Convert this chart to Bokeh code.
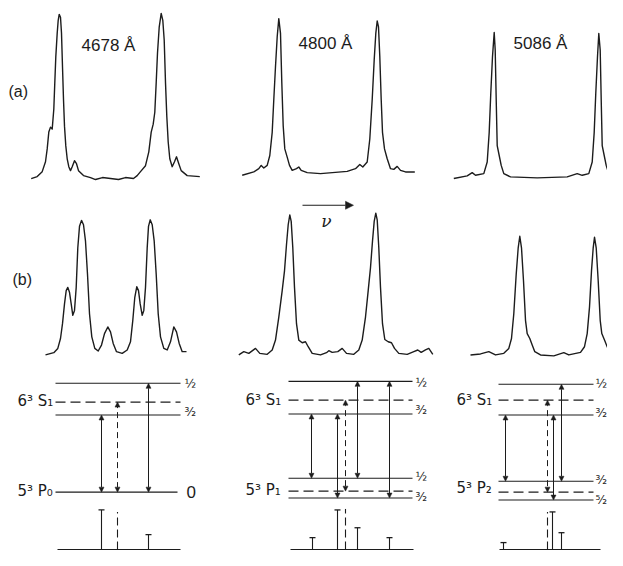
from bokeh.plotting import figure
from bokeh.models import Range1d, ColumnDataSource, Arrow, NormalHead
from bokeh.core.properties import value
from bokeh.embed import file_html
from bokeh.resources import INLINE

INK = "#1c1c1c"

# ---------------- spectra, row (a): frequency (x) vs. recorded trace (y, downward scale)
a1_x = [30.7, 36.7, 41.7, 45, 46.7, 48.3, 50, 51.7, 53.3, 54.3, 55.3, 56.7, 57.7, 58.7, 60, 61, 62, 63, 64, 65.3, 66.7, 68.3, 70, 71.7, 74, 76, 78, 83,
        90, 95, 102, 110, 118, 125, 133, 136.7, 140, 145, 148.3, 150.7, 152.7, 154.3, 155.7, 157, 158.7, 160.7, 162.3, 163.7, 165, 166.3, 167.7, 169.3, 171.7, 174, 176, 178.3, 180.7, 186.7, 199.3]
a1_y = [180, 178, 173, 163, 150, 133, 128, 130, 110, 83, 57, 33, 20, 14, 17, 33, 67, 100, 127, 147, 160, 168, 172, 168, 162, 165, 172, 177,
        179, 181, 179, 180, 181, 179, 180, 177, 173, 167, 153, 133, 125, 113, 83, 53, 27, 13, 20, 40, 83, 117, 143, 160, 168, 163, 158, 165, 172, 177, 178]

a2_x = [241.7, 253.3, 258.3, 260.7, 263.3, 266.7, 269.3, 271.7, 273.3, 275, 276.7, 278.3, 280, 281.3, 282.7, 284.3, 286.7, 289, 291.7, 296, 298.3, 300.7, 306.7, 320,
        346.7, 355, 359.3, 362.3, 366.7, 369.3, 371.7, 373.7, 375.3, 376.7, 378, 379.3, 380.7, 382, 384, 386.7, 390, 393.3, 396.7, 400, 405, 414.3]
a2_y = [176.7, 173.3, 170, 166.7, 169.3, 166.7, 156.7, 133.3, 100, 66.7, 36.7, 18.3, 33.3, 83, 126.7, 150, 158.3, 166.7, 171.7, 170, 168.3, 171.7, 174, 175,
        172.7, 170, 165.7, 168.3, 163.3, 140, 100, 60, 33.3, 20.7, 26.7, 56.7, 100, 133.3, 150, 160, 170, 170.7, 167.7, 171.7, 173.3, 173.3]

a3_x = [453.3, 466.7, 471.7, 475, 483.3, 486.7, 488.7, 490.3, 492, 493.7, 494.7, 495.7, 496.7, 498.7, 500.7, 503.3, 510, 536.7,
        566.7, 576.7, 581.7, 588.3, 591.7, 593.7, 595.3, 597, 598.3, 599.7, 600.7, 601.7, 603.7, 605.7, 608.3, 613.3, 623.3]
a3_y = [180, 177.3, 174, 176.7, 175, 163.3, 133.3, 93.3, 56.7, 32.3, 50, 100, 146.7, 156.7, 166.7, 175, 178.3, 179.3,
        178.3, 175, 176.7, 175, 163.3, 133.3, 93.3, 56.7, 33.3, 50, 100, 146.7, 156.7, 166.7, 175, 178.3, 179]

# ---------------- spectra, row (b)
b1_x = [45, 53.3, 57.3, 60, 62, 64, 65.7, 67.3, 69, 70.7, 72.3, 74, 75.7, 77.3, 79, 81, 83, 85, 87, 89, 91.3, 94.3, 97.7, 101, 104, 107.3, 110, 112.7, 116, 121.7,
        126.7, 130, 132.3, 134.3, 136.3, 138, 139.7, 141.7, 143.3, 145, 146.7, 148, 149.7, 151.7, 153.7, 155.7, 157.7, 160, 163.3, 166.7, 170, 173.3, 176, 178.7, 181.7, 186]
b1_y = [358.3, 356, 351.7, 341.7, 326.7, 306.7, 293.3, 290, 295, 306.7, 318.3, 313.3, 290, 250, 228.3, 222.3, 226.7, 243.3, 276.7, 316.7, 340, 351.7, 354.3, 348.3, 336.7, 330, 335, 346.7, 355, 356.7,
        353.3, 345, 323.3, 300, 289.3, 293.3, 306.7, 318.3, 313.3, 290, 250, 228.3, 221.7, 226.7, 243.3, 276.7, 316.7, 340, 351.7, 353.3, 345, 330, 335, 346.7, 355, 355]

b2_x = [238.3, 243.3, 248.3, 255, 259.3, 266.7, 271.7, 275, 278.3, 281.7, 284, 286, 287.7, 289.3, 290.7, 292.3, 294, 296, 298.3, 301.7, 305, 307.7, 311.7, 320, 326, 328.3, 331.7, 337.3, 341.7, 346,
        353.3, 358.3, 361.7, 365, 367.7, 370, 372, 373.7, 375.3, 376.7, 378.3, 380, 382, 384.3, 387.7, 391, 394, 398.3, 406.7, 413.3, 417.3, 420.7, 425, 428.3, 432.3]
b2_y = [358.3, 355, 356.7, 351.7, 356.7, 357.7, 353.3, 343.3, 320, 293.3, 273.3, 246.7, 226.7, 216.7, 223.3, 250, 290, 326.7, 343.3, 346, 345, 350, 356.7, 358.3, 356, 354, 355.7, 355, 351.7, 356.7,
        357.7, 353.3, 343.3, 320, 293.3, 270, 243.3, 223.3, 215, 221.7, 250, 290, 326.7, 342.7, 345, 346, 351.7, 356.7, 357.7, 355, 353.3, 355.7, 353.3, 351.7, 357.7]

b3_x = [470, 480, 488.3, 495, 503.3, 508.3, 511, 513.3, 515.7, 517.7, 519.3, 521, 523, 525, 526.7, 529.3, 531.7, 534.3, 540, 553.3,
        563.3, 568.3, 580, 584, 586.7, 589, 591, 592.7, 594, 595.7, 597.7, 599.7, 601.3, 604, 606.7, 610, 615, 620]
b3_y = [358.3, 357.3, 355, 358.3, 356.7, 351.7, 341.7, 316.7, 276.7, 250, 238.3, 250, 283.3, 323.3, 336.7, 341.7, 348.3, 355, 358.3, 359.3,
        356, 358.3, 355.7, 350, 336.7, 310, 273.3, 250, 239.3, 250, 283.3, 323.3, 336.7, 343.3, 350, 356.7, 358.3, 359]

# ---------------- energy level diagrams (level energies on the downward scale)
lev_x0 = [55, 55, 55, 55, 288, 288, 288, 288, 288, 288, 498, 498, 498, 498, 498, 498]
lev_x1 = [180, 180, 180, 177, 412, 412, 412, 412, 412, 412, 593, 593, 593, 593, 593, 593]
lev_y = [387, 406, 419, 497, 385, 404, 418, 483, 496, 503, 388, 404, 419, 486, 497, 505]
lev_dashed = [False, True, False, False, False, True, False, False, True, False, False, True, False, False, True, False]

# transitions: position, upper level, lower level, dashed?
tr_x = [101, 117, 148, 311, 337, 345, 357, 389, 505, 547, 553, 561]
tr_top = [419, 406, 387, 418, 418, 404, 385, 385, 419, 404, 419, 388]
tr_bot = [497, 497, 497, 483, 503, 496, 483, 503, 486, 497, 505, 486]
tr_dashed = [False, True, False, False, False, True, False, False, False, True, False, False]

# stick spectra: baselines and line intensities
base_x0 = [57, 290, 499]
base_x1 = [180, 413, 600]
base_y = [555, 555, 555]
st_x = [101, 117, 148, 312, 337, 345, 357, 389, 503, 547, 552, 561]
st_top = [515, 517, 540, 543, 515, 514, 533, 543, 548, 517, 517, 538]
st_dashed = [False, True, False, False, False, True, False, False, False, True, False, False]

# ---------------- texts
title_text = ["4678 Å", "4800 Å", "5086 Å"]
title_x = [108, 325, 540]
title_y = [45, 43, 43]

row_text = ["(a)", "(b)"]
row_x = [8, 12]
row_y = [92, 282]

term_text = ["6³ S₁", "5³ P₀", "6³ S₁", "5³ P₁", "6³ S₁", "5³ P₂"]
term_x = [17, 17, 245, 245, 456, 456]
term_y = [405, 496, 404, 495, 404, 493]

j_text = ["½", "³⁄₂", "½", "³⁄₂", "½", "³⁄₂", "½", "³⁄₂", "³⁄₂", "⁵⁄₂"]
j_x = [184, 184, 415, 415, 415, 415, 595, 595, 595, 595]
j_y = [388, 416, 387, 414, 482, 502, 388, 417, 485, 505]

p = figure(width=607, height=550, x_range=Range1d(0, 607), y_range=Range1d(556, 0),
           output_backend="svg", toolbar_location=None, min_border=0,
           x_axis_location=None, y_axis_location=None)
p.grid.visible = False
p.outline_line_color = None
p.background_fill_color = "white"
p.border_fill_color = "white"

for xs, ys in [(a1_x, a1_y), (a2_x, a2_y), (a3_x, a3_y), (b1_x, b1_y), (b2_x, b2_y), (b3_x, b3_y)]:
    p.line(xs, ys, line_color=INK, line_width=1.4, line_join="round")

def pick(seq, mask, flag):
    return [s for s, m in zip(seq, mask) if m == flag]

# levels
p.segment(pick(lev_x0, lev_dashed, False), pick(lev_y, lev_dashed, False),
          pick(lev_x1, lev_dashed, False), pick(lev_y, lev_dashed, False),
          line_color=INK, line_width=1.1)
p.segment(pick(lev_x0, lev_dashed, True), pick(lev_y, lev_dashed, True),
          pick(lev_x1, lev_dashed, True), pick(lev_y, lev_dashed, True),
          line_color=INK, line_width=1.1, line_dash="10 5")

# transitions with double arrow heads
for flag, dash in [(False, "solid"), (True, "6 4")]:
    src = ColumnDataSource(dict(x=pick(tr_x, tr_dashed, flag),
                                y0=pick(tr_top, tr_dashed, flag),
                                y1=pick(tr_bot, tr_dashed, flag)))
    p.add_layout(Arrow(x_start="x", y_start="y0", x_end="x", y_end="y1", source=src,
                       line_color=INK, line_width=1.0, line_dash=dash,
                       start=NormalHead(size=5, fill_color=INK, line_color=INK, line_width=0.5),
                       end=NormalHead(size=5, fill_color=INK, line_color=INK, line_width=0.5)))

# stick spectra
p.segment(base_x0, base_y, base_x1, base_y, line_color=INK, line_width=1.1)
sx = pick(st_x, st_dashed, False)
st = pick(st_top, st_dashed, False)
p.segment(sx, [base_y[0]] * len(sx), sx, st, line_color=INK, line_width=1.1)
p.scatter(sx, st, marker="dash", size=6, line_color=INK, line_width=1.3)
dx = pick(st_x, st_dashed, True)
dt = pick(st_top, st_dashed, True)
p.segment(dx, [base_y[0]] * len(dx), dx, dt, line_color=INK, line_width=1.1, line_dash="8 4")

# frequency direction arrow
nu_src = ColumnDataSource(dict(x0=[302], x1=[353], y=[207]))
p.add_layout(Arrow(x_start="x0", y_start="y", x_end="x1", y_end="y", source=nu_src,
                   line_color=INK, line_width=1.2,
                   end=NormalHead(size=8, fill_color=INK, line_color=INK, line_width=0.5)))
p.text([326], [223], text=["ν"], text_font=value("DejaVu Serif"), text_font_style="italic",
       text_font_size=value("17px"), text_align="center", text_baseline="middle", text_color=INK)

p.text(title_x, title_y, text=title_text, text_font=value("Liberation Sans"),
       text_font_size=value("17px"), text_align="center", text_baseline="middle", text_color=INK)
p.text(row_x, row_y, text=row_text, text_font=value("Liberation Sans"),
       text_font_size=value("16px"), text_align="left", text_baseline="middle", text_color=INK)
p.text(term_x, term_y, text=term_text, text_font=value("DejaVu Sans"),
       text_font_size=value("15px"), text_align="left", text_baseline="middle", text_color=INK)
p.text(j_x, j_y, text=j_text, text_font=value("DejaVu Sans"),
       text_font_size=value("12px"), text_align="left", text_baseline="middle", text_color=INK)
p.text([186], [497], text=["0"], text_font=value("Liberation Sans"),
       text_font_size=value("17px"), text_align="left", text_baseline="middle", text_color=INK)

open("out.html", "w").write(file_html(p, INLINE))
